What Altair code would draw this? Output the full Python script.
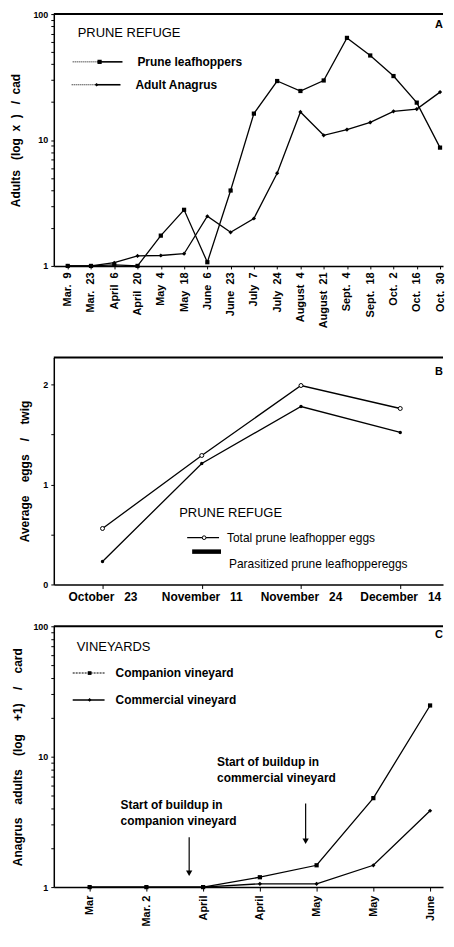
import json
import altair as alt
import pandas as pd

# ---------------- data ----------------
A_dates = ["Mar. 9", "Mar. 23", "April 6", "April 20", "May 4", "May 18", "June 6",
           "June 23", "July 7", "July 24", "August 4", "August 21", "Sept. 4",
           "Sept. 18", "Oct. 2", "Oct. 16", "Oct. 30"]
A_leafhoppers = [1.0, 1.0, 1.02, 1.0, 1.74, 2.79, 1.07, 3.97, 16.2, 29.4, 24.5,
                 29.7, 64.7, 46.9, 32.2, 19.8, 8.7]
A_anagrus = [1.0, 1.0, 1.06, 1.2, 1.21, 1.25, 2.48, 1.85, 2.38, 5.45, 16.7,
             10.9, 12.1, 13.8, 16.9, 17.6, 24.0]

B_dates = ["October 23", "November 11", "November 24", "December 14"]
B_total = [0.56, 1.29, 1.99, 1.76]
B_parasitized = [0.23, 1.21, 1.78, 1.52]

C_dates = ["Mar", "Mar. 2", "April", "April", "May", "May", "June"]
C_companion = [1.0, 1.0, 1.0, 1.19, 1.47, 4.81, 24.7]
C_commercial = [1.0, 1.0, 1.0, 1.06, 1.06, 1.47, 3.85]

FONT = "Liberation Sans"
NB = "\u00a0"


def spaced(s, n=2):
    return s.replace(" ", NB * n)


def label_expr(labels):
    return json.dumps(labels, ensure_ascii=False) + "[datum.value]"


one = alt.Data(values=[{"k": 1}])


def txt(s, x, y, size=12, weight="bold", align="left", baseline="middle"):
    return alt.Chart(one).mark_text(
        text=s, align=align, baseline=baseline, fontSize=size,
        fontWeight=weight, font=FONT, color="black"
    ).encode(x=alt.value(x), y=alt.value(y))


def hline(x1, x2, y, w=1.3, dash=None):
    kw = {"strokeDash": dash} if dash else {}
    return alt.Chart(one).mark_rule(color="black", strokeWidth=w, **kw).encode(
        x=alt.value(x1), x2=alt.value(x2), y=alt.value(y))


def vline(x, y1, y2, w=1.2):
    return alt.Chart(one).mark_rule(color="black", strokeWidth=w).encode(
        x=alt.value(x), y=alt.value(y1), y2=alt.value(y2))


def marker(x, y, shape, size, filled=True):
    kw = dict(shape=shape, size=size, opacity=1)
    if filled:
        kw.update(filled=True, color="black")
    else:
        kw.update(filled=False, stroke="black", fill="white", strokeWidth=1)
    return alt.Chart(one).mark_point(**kw).encode(x=alt.value(x), y=alt.value(y))


def yaxis(title, values, expr, extent, tpad, tsize=12):
    return alt.Axis(
        title=title, values=values, labelExpr=expr, labelOverlap=False,
        labelFontSize=9, labelFontWeight="bold", labelPadding=3, tickSize=3,
        tickWidth=1, domainWidth=1.5, minExtent=extent, maxExtent=extent,
        titlePadding=tpad, titleFontSize=tsize, titleFontWeight="bold", grid=False)


W = 391  # common plot width (plot left edge is shared by the three panels)

# ---------------- panel A ----------------
HA = 253
dfA = pd.DataFrame({
    "i": list(range(len(A_dates))) * 2,
    "series": ["Prune leafhoppers"] * len(A_dates) + ["Adult Anagrus"] * len(A_dates),
    "v": A_leafhoppers + A_anagrus,
})
logvals = [1, 2, 3, 4, 5, 6, 7, 8, 9, 10, 20, 30, 40, 50, 60, 70, 80, 90, 100]
log_expr = "(datum.value == 1 || datum.value == 10 || datum.value == 100) ? datum.value : ''"
titleA = "Adults" + NB * 3 + "(log" + NB * 2 + "x" + NB * 2 + ")" + NB * 3 + "/" + NB * 2 + "cad"

xA = alt.X("i:Q", scale=alt.Scale(domain=[-0.599, 16.128], nice=False, zero=False),
           axis=alt.Axis(values=list(range(len(A_dates))),
                         labelExpr=label_expr([spaced(d) for d in A_dates]),
                         labelAngle=270, labelFontSize=11, labelFontWeight="bold",
                         labelPadding=3, tickSize=3, domainWidth=1.5,
                         title=NB, titleFontSize=2, titlePadding=6,
                         grid=False, labelOverlap=False))
yA = alt.Y("v:Q", scale=alt.Scale(type="log", domain=[1, 100], nice=False),
           axis=yaxis(titleA, logvals, log_expr, 22, 9))

lineA = alt.Chart(dfA).mark_line(color="black", strokeWidth=1.3).encode(xA, yA, detail="series:N")
ptsA = alt.Chart(dfA).mark_point(filled=True, color="black", size=18, opacity=1).encode(
    xA, yA,
    shape=alt.Shape("series:N", scale=alt.Scale(domain=["Prune leafhoppers", "Adult Anagrus"],
                                                 range=["square", "diamond"]), legend=None))
panelA = alt.layer(
    lineA, ptsA,
    hline(0, W, 0, w=2),
    txt("PRUNE REFUGE", 24, 19, size=13, weight="normal"),
    hline(19, 44, 48, w=1, dash=[1, 1]), hline(44, 69, 48, w=1.6),
    marker(46, 48, "square", 18),
    txt("Prune leafhoppers", 84, 48),
    hline(18, 43, 71, w=1, dash=[1, 1]), hline(43, 67, 71, w=1.6),
    marker(43, 71, "diamond", 14),
    txt("Adult Anagrus", 82, 71),
    txt("A", W, 11, size=11, align="right"),
).properties(width=W, height=HA)

# ---------------- panel B ----------------
HB = 228
dfB = pd.DataFrame({
    "i": list(range(len(B_dates))) * 2,
    "series": ["Total"] * len(B_dates) + ["Parasitized"] * len(B_dates),
    "v": B_total + B_parasitized,
})
titleB = "Average" + NB * 4 + "eggs" + NB * 4 + "/" + NB * 4 + "twig"
xB = alt.X("i:Q", scale=alt.Scale(domain=[-0.491, 3.431], nice=False, zero=False),
           axis=alt.Axis(values=list(range(len(B_dates))),
                         labelExpr=label_expr([spaced(d, 3) for d in B_dates]),
                         labelAngle=0, labelFontSize=12, labelFontWeight="bold",
                         labelPadding=3, tickSize=4, domainWidth=1.5, title=None,
                         grid=False, labelOverlap=False))
yB = alt.Y("v:Q", scale=alt.Scale(domain=[0, 2.27], nice=False, zero=True),
           axis=yaxis(titleB, [0, 0.5, 1, 1.5, 2],
                      "(datum.value == 0 || datum.value == 1 || datum.value == 2) ? datum.value : ''",
                      16, 6))
lineB = alt.Chart(dfB).mark_line(color="black", strokeWidth=1.3).encode(xB, yB, detail="series:N")
ptsB_total = alt.Chart(dfB).transform_filter(alt.datum.series == "Total").mark_point(
    shape="circle", filled=False, fill="white", stroke="black", strokeWidth=1, size=16, opacity=1
).encode(xB, yB)
ptsB_par = alt.Chart(dfB).transform_filter(alt.datum.series == "Parasitized").mark_point(
    shape="circle", filled=True, color="black", size=12, opacity=1
).encode(xB, yB)
panelB = alt.layer(
    lineB, ptsB_total, ptsB_par,
    hline(0, W, 0, w=2),
    txt("PRUNE REFUGE", 126, 156, size=13, weight="normal"),
    hline(134, 166, 181, w=1.3),
    marker(151, 181, "circle", 14, filled=False),
    txt("Total prune leafhopper eggs", 174, 181, weight="normal"),
    hline(139, 168, 195, w=4.5),
    txt("Parasitized prune leafhoppereggs", 176, 207, weight="normal"),
    txt("B", W, 15, size=11, align="right"),
).properties(width=W, height=HB)

# ---------------- panel C ----------------
HC = 262
dfC = pd.DataFrame({
    "i": list(range(len(C_dates))) * 2,
    "series": ["Companion vineyard"] * len(C_dates) + ["Commercial vineyard"] * len(C_dates),
    "v": C_companion + C_commercial,
})
titleC = "Anagrus" + NB * 4 + "adults" + NB * 4 + "(log" + NB * 4 + "+1)" + NB * 4 + "/" + NB * 4 + "card"
xC = alt.X("i:Q", scale=alt.Scale(domain=[-0.632, 6.228], nice=False, zero=False),
           axis=alt.Axis(values=list(range(len(C_dates))),
                         labelExpr=label_expr(C_dates),
                         labelAngle=270, labelFontSize=11, labelFontWeight="bold",
                         labelPadding=4, tickSize=4, domainWidth=1.5, title=None,
                         grid=False, labelOverlap=False))
yC = alt.Y("v:Q", scale=alt.Scale(type="log", domain=[1, 100], nice=False),
           axis=yaxis(titleC, logvals, log_expr, 22, 7))
lineC = alt.Chart(dfC).mark_line(color="black", strokeWidth=1.3).encode(xC, yC, detail="series:N")
ptsC = alt.Chart(dfC).mark_point(filled=True, color="black", size=18, opacity=1).encode(
    xC, yC,
    shape=alt.Shape("series:N", scale=alt.Scale(domain=["Companion vineyard", "Commercial vineyard"],
                                                 range=["square", "diamond"]), legend=None))
panelC = alt.layer(
    lineC, ptsC,
    hline(0, W, 0, w=2),
    txt("VINEYARDS", 23, 21, size=13, weight="normal"),
    hline(19, 51, 47, w=1.1, dash=[2, 1]),
    marker(36, 47, "square", 14),
    txt("Companion vineyard", 62, 47),
    hline(19, 51, 74, w=1.6),
    marker(36, 74, "diamond", 14),
    txt("Commercial vineyard", 62, 74),
    txt("C", W, 9, size=11, align="right"),
    txt("Start of buildup in", 164, 136),
    txt("commercial vineyard", 164, 152),
    txt("Start of buildup in", 67, 180),
    txt("companion vineyard", 67, 196),
    vline(136, 212, 246), marker(136, 248, "triangle-down", 40),
    vline(253, 178, 214), marker(253, 216, "triangle-down", 40),
).properties(width=W, height=HC)

chart = alt.vconcat(
    panelA, panelB, panelC, spacing=20,
).properties(
    padding={"left": 2, "top": 0, "right": 0, "bottom": 0}
).configure_view(stroke=None).configure_axis(
    grid=False, domainColor="black", tickColor="black", labelColor="black",
    titleColor="black", labelFont=FONT, titleFont=FONT
).configure_text(font=FONT)

chart.save("out.html", embed_options={"renderer": "svg", "actions": False})
